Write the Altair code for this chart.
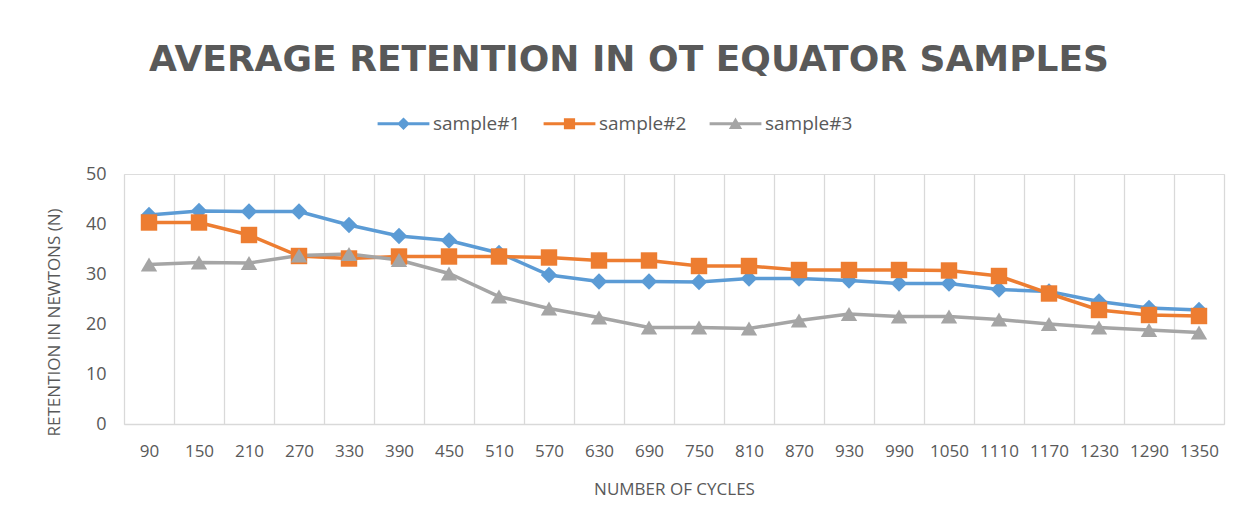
import altair as alt
import pandas as pd

cycles = [90, 150, 210, 270, 330, 390, 450, 510, 570, 630, 690, 750,
          810, 870, 930, 990, 1050, 1110, 1170, 1230, 1290, 1350]
sample1 = [41.8, 42.6, 42.5, 42.5, 39.8, 37.6, 36.7, 34.2, 29.8, 28.5, 28.5,
           28.4, 29.1, 29.1, 28.7, 28.1, 28.1, 26.9, 26.5, 24.5, 23.2, 22.8]
sample2 = [40.3, 40.3, 37.8, 33.6, 33.1, 33.5, 33.5, 33.5, 33.3, 32.7, 32.7,
           31.6, 31.6, 30.8, 30.8, 30.8, 30.7, 29.6, 26.1, 22.8, 21.8, 21.6]
sample3 = [31.9, 32.3, 32.2, 33.7, 34.0, 32.8, 30.1, 25.5, 23.1, 21.3, 19.3,
           19.3, 19.1, 20.7, 22.0, 21.5, 21.5, 20.9, 20.0, 19.3, 18.8, 18.3]
series_names = ["sample#1", "sample#2", "sample#3"]
series_colors = ["#5B9BD5", "#ED7D31", "#A5A5A5"]
marker_shapes = ["diamond", "square", "triangle-up"]

rows = []
for name, vals in zip(series_names, [sample1, sample2, sample3]):
    for c, v in zip(cycles, vals):
        rows.append({"cycle": str(c), "value": v, "series": name})
df = pd.DataFrame(rows)

FONT = "Open Sans"
TXT = "#595959"
GRID = "#D9D9D9"

legend_paths = [
    "M -3.7 -0.22 L 3.7 -0.22 L 3.7 0.22 L -3.7 0.22 Z M 0 -0.9 L 0.9 0 L 0 0.9 L -0.9 0 Z",
    "M -3.7 -0.22 L 3.7 -0.22 L 3.7 0.22 L -3.7 0.22 Z M -0.8 -0.8 L 0.8 -0.8 L 0.8 0.8 L -0.8 0.8 Z",
    "M -3.7 -0.22 L 3.7 -0.22 L 3.7 0.22 L -3.7 0.22 Z M 0 -0.9 L 0.95 0.75 L -0.95 0.75 Z",
]

x_enc = alt.X(
    "cycle:O",
    sort=[str(c) for c in cycles],
    scale=alt.Scale(type="band", paddingInner=0, paddingOuter=0),
    bandPosition=0.5,
    axis=alt.Axis(
        title="NUMBER OF CYCLES",
        labelAngle=0,
        labelFont=FONT, labelFontSize=17, labelColor=TXT, labelPadding=19,
        titleFont=FONT, titleFontSize=17, titleColor=TXT, titleFontWeight="normal",
        titlePadding=22,
        grid=True, gridColor=GRID, gridWidth=1.3,
        tickBand="extent", ticks=False,
        domainColor=GRID, domainWidth=1.5,
    ),
)
y_enc = alt.Y(
    "value:Q",
    scale=alt.Scale(domain=[0, 50]),
    axis=alt.Axis(
        title="RETENTION IN NEWTONS (N)",
        values=[0, 10, 20, 30, 40, 50],
        labelFont=FONT, labelFontSize=18, labelColor=TXT, labelPadding=18,
        titleFont=FONT, titleFontSize=17, titleColor=TXT, titleFontWeight="normal",
        titlePadding=22, titleY=148,
        grid=False, ticks=False, domain=False,
    ),
)
color_scale = alt.Scale(domain=series_names, range=series_colors)

legend_props = dict(
    title=None, orient="none", direction="horizontal",
    legendX=270, legendY=-60,
    symbolSize=196, symbolOpacity=1, symbolStrokeWidth=0,
    labelFont=FONT, labelFontSize=19, labelColor=TXT, labelOffset=20,
    columnPadding=22,
)

lines = alt.Chart(df).mark_line(strokeWidth=3.5).encode(
    x=x_enc, y=y_enc,
    color=alt.Color("series:N", scale=color_scale, legend=None),
)
points = alt.Chart(df).mark_point(filled=True, size=270, opacity=1).encode(
    x=x_enc, y=y_enc,
    color=alt.Color("series:N", scale=color_scale, legend=None),
    shape=alt.Shape("series:N", scale=alt.Scale(domain=series_names, range=marker_shapes), legend=None),
)
legend_layer = alt.Chart(df).mark_point(filled=True, opacity=0).encode(
    x=x_enc, y=y_enc,
    color=alt.Color("series:N", scale=color_scale, legend=alt.Legend(**legend_props)),
    shape=alt.Shape("series:N", scale=alt.Scale(domain=series_names, range=legend_paths),
                    legend=alt.Legend(**legend_props)),
)

chart = alt.layer(lines, points, legend_layer).resolve_scale(
    shape="independent", color="independent"
).properties(
    width=1100, height=250,
    padding={"left": 116, "top": 166, "right": 21, "bottom": 97},
    autosize=alt.AutoSizeParams(type="none"),
    title=alt.TitleParams(
        "AVERAGE RETENTION IN OT EQUATOR SAMPLES",
        font="DejaVu Sans", fontSize=36, fontWeight="bold", color=TXT,
        anchor="middle", frame="group", dx=-45, offset=35,
    ),
).configure_view(stroke=None).configure(background="white")

chart.save("out.html", embed_options={"renderer": "svg", "actions": False})
